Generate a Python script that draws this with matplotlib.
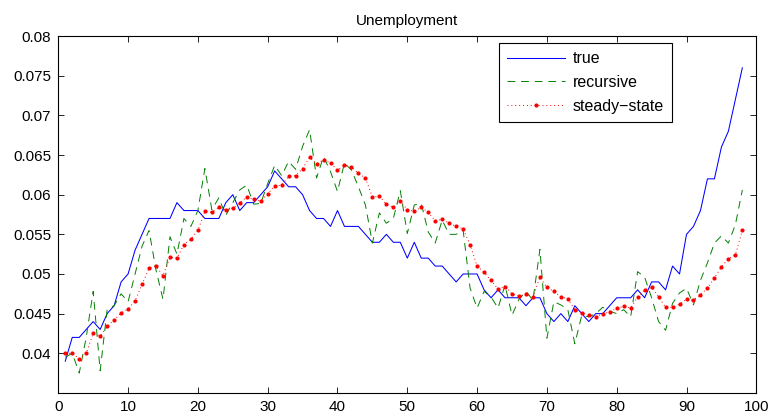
import matplotlib
matplotlib.use("Agg")
import matplotlib.pyplot as plt
import numpy as np

plt.rcParams['font.family'] = ['Liberation Sans', 'DejaVu Sans']

title = "Unemployment"
labels = ["true", "recursive", "steady\u2212state"]

t = list(range(1, 99))

true_u = [0.039, 0.042, 0.042, 0.043, 0.044, 0.043, 0.045, 0.046, 0.049, 0.050,
          0.053, 0.055, 0.057, 0.057, 0.057, 0.057, 0.059, 0.058, 0.058, 0.058,
          0.057, 0.057, 0.057, 0.059, 0.060, 0.058, 0.059, 0.059, 0.060, 0.061,
          0.063, 0.062, 0.061, 0.061, 0.060, 0.058, 0.057, 0.057, 0.056, 0.058,
          0.056, 0.056, 0.056, 0.055, 0.054, 0.054, 0.055, 0.054, 0.054, 0.052,
          0.054, 0.052, 0.052, 0.051, 0.051, 0.050, 0.049, 0.050, 0.050, 0.050,
          0.048, 0.047, 0.048, 0.047, 0.047, 0.047, 0.046, 0.047, 0.047, 0.045,
          0.044, 0.045, 0.044, 0.046, 0.045, 0.044, 0.045, 0.045, 0.046, 0.047,
          0.047, 0.047, 0.048, 0.047, 0.049, 0.049, 0.048, 0.051, 0.050, 0.055,
          0.056, 0.058, 0.062, 0.062, 0.066, 0.068, 0.072, 0.076]

recursive = [0.0395, 0.0400, 0.0375, 0.0420, 0.0478, 0.0378, 0.0455, 0.0460, 0.0475, 0.0465,
             0.0500, 0.0535, 0.0555, 0.0505, 0.0468, 0.0547, 0.0525, 0.0570, 0.0560, 0.0580,
             0.0633, 0.0581, 0.0596, 0.0574, 0.0590, 0.0606, 0.0612, 0.0588, 0.0589, 0.0614,
             0.0637, 0.0624, 0.0642, 0.0632, 0.0661, 0.0682, 0.0621, 0.0648, 0.0629, 0.0604,
             0.0640, 0.0631, 0.0610, 0.0587, 0.0539, 0.0577, 0.0564, 0.0570, 0.0605, 0.0551,
             0.0587, 0.0589, 0.0553, 0.0539, 0.0568, 0.0550, 0.0550, 0.0555, 0.0482, 0.0457,
             0.0478, 0.0471, 0.0457, 0.0486, 0.0448, 0.0468, 0.0478, 0.0467, 0.0531, 0.0419,
             0.0465, 0.0461, 0.0455, 0.0412, 0.0448, 0.0446, 0.0450, 0.0458, 0.0453, 0.0450,
             0.0455, 0.0446, 0.0503, 0.0496, 0.0470, 0.0440, 0.0429, 0.0463, 0.0476, 0.0482,
             0.0461, 0.0492, 0.0514, 0.0539, 0.0548, 0.0539, 0.0562, 0.0606]

steady = [0.0400, 0.0400, 0.0393, 0.0400, 0.0425, 0.0422, 0.0434, 0.0442, 0.0451, 0.0456,
          0.0466, 0.0487, 0.0507, 0.0510, 0.0498, 0.0521, 0.0520, 0.0537, 0.0544, 0.0555,
          0.0579, 0.0578, 0.0584, 0.0581, 0.0583, 0.0590, 0.0597, 0.0594, 0.0592, 0.0601,
          0.0611, 0.0612, 0.0623, 0.0624, 0.0633, 0.0647, 0.0639, 0.0644, 0.0640, 0.0631,
          0.0637, 0.0635, 0.0627, 0.0621, 0.0597, 0.0598, 0.0588, 0.0584, 0.0592, 0.0581,
          0.0579, 0.0584, 0.0578, 0.0567, 0.0569, 0.0564, 0.0560, 0.0557, 0.0537, 0.0510,
          0.0502, 0.0492, 0.0481, 0.0484, 0.0475, 0.0472, 0.0475, 0.0471, 0.0496, 0.0483,
          0.0478, 0.0471, 0.0469, 0.0455, 0.0451, 0.0448, 0.0446, 0.0450, 0.0452, 0.0457,
          0.0459, 0.0457, 0.0471, 0.0480, 0.0483, 0.0471, 0.0458, 0.0458, 0.0462, 0.0468,
          0.0467, 0.0474, 0.0482, 0.0495, 0.0509, 0.0519, 0.0524, 0.0555]

xticks = list(range(0, 101, 10))
yticks = [0.04, 0.045, 0.05, 0.055, 0.06, 0.065, 0.07, 0.075, 0.08]
yticklabels = ["0.04", "0.045", "0.05", "0.055", "0.06", "0.065", "0.07", "0.075", "0.08"]

fig = plt.figure(figsize=(7.73, 4.20), dpi=100)
ax = fig.add_axes([0.0754, 0.0645, 0.9030, 0.8495])

ax.plot(t, true_u, color=(0, 0, 1), lw=0.75, label=labels[0])
ax.plot(t, recursive, color=(0, 0.5, 0), lw=0.7, dashes=(8, 6), label=labels[1])
ax.plot(t, steady, color=(1, 0, 0), lw=0.7, linestyle=(0, (1, 3)), marker='o',
        markersize=3.0, markeredgewidth=0, label=labels[2])

ax.set_xlim(0, 100)
ax.set_ylim(0.035, 0.08)
ax.set_xticks(xticks)
ax.set_yticks(yticks)
ax.set_yticklabels(yticklabels)
ax.tick_params(direction='in', top=True, right=True, length=4, width=0.6,
               labelsize=11, pad=5)
for s in ax.spines.values():
    s.set_linewidth(0.8)
ax.set_title(title, fontsize=11, pad=8)

leg = ax.legend(loc='upper right', bbox_to_anchor=(0.879, 0.98), fontsize=11.5,
                fancybox=False, framealpha=1, edgecolor='black',
                handlelength=3.6, handletextpad=0.5, borderpad=0.5,
                labelspacing=0.55, borderaxespad=0)
leg.get_frame().set_linewidth(0.8)

fig.savefig("out.png", dpi=100)
